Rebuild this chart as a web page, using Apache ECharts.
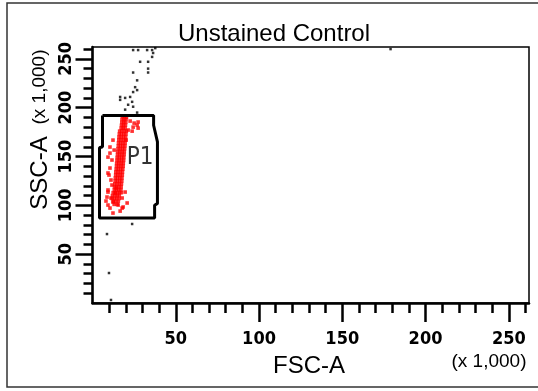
<!DOCTYPE html>
<html>
<head>
<meta charset="utf-8">
<script src="https://cdn.jsdelivr.net/npm/echarts@6/dist/echarts.min.js"></script>
<style>
html,body{margin:0;padding:0;background:#fff;}
#chart{width:538px;height:391px;}
</style>
</head>
<body>
<div id="chart"></div>
<script>
// ---- data (values in thousands) ----
const axisMax = 262.144;
const majorTicks = [50, 100, 150, 200, 250];
const minorTicks = [10, 20, 30, 40, 50, 60, 70, 80, 90, 100, 110, 120, 130, 140, 150, 160, 170, 180, 190, 200, 210, 220, 230, 240, 250, 260];

const gateP1 = [
  [6.0, 192], [36.7, 192], [36.7, 182], [39.0, 165], [39.0, 102], [37.3, 100],
  [37.3, 87], [4.2, 87], [4.2, 159], [6.0, 160], [6.0, 192]
];
const gateLabel = [[20.5, 149]];

const eventsInGate = [
  [18.0,191],[19.2,191],[20.4,190],
  [17.7,188],[18.9,188],[20.1,188],
  [17.6,185],[18.8,185],[20.0,185],
  [17.4,182],[18.6,182],[19.8,182],
  [17.2,179],[18.4,179],[19.6,179],
  [16.3,176],[17.6,176],[19.0,176],[20.3,176],
  [16.1,173],[17.4,173],[18.8,173],[20.1,173],
  [15.9,170],[17.2,170],[18.6,170],[19.9,170],
  [15.8,167],[17.1,167],[18.5,167],[19.8,167],
  [15.6,164],[16.9,164],[18.3,164],[19.6,164],
  [15.5,161],[16.8,161],[18.2,161],[19.5,161],
  [15.3,158],[16.6,158],[18.0,158],[19.3,158],
  [15.1,155],[16.4,155],[17.8,155],[19.1,155],
  [15.0,152],[16.3,152],[17.7,152],[19.0,152],
  [14.8,149],[16.1,149],[17.5,149],[18.8,149],
  [14.7,146],[16.0,146],[17.4,146],[18.7,146],
  [14.5,143],[15.8,143],[17.2,143],[18.5,143],
  [14.4,140],[15.7,140],[17.1,140],[18.4,140],
  [14.2,137],[15.5,137],[16.9,137],[18.2,137],
  [14.0,134],[15.3,134],[16.7,134],[18.0,134],
  [13.9,131],[15.2,131],[16.6,131],[17.9,131],
  [13.7,128],[15.0,128],[16.4,128],[17.7,128],
  [13.6,125],[14.9,125],[16.3,125],[17.6,125],
  [13.4,122],[14.7,122],[16.1,122],[17.4,122],
  [13.2,119],[14.5,119],[15.9,119],[17.2,119],
  [13.1,116],[14.4,116],[15.8,116],[17.1,116],
  [12.4,113],[13.8,113],[15.0,113],[16.3,113],[17.3,113],
  [12.0,110],[13.5,110],[14.8,110],[16.1,110],
  [11.8,107],[13.2,107],[14.6,107],[16.0,107],
  [12.5,104],[14.0,104],[15.5,104],
  [13.0,101],[14.8,101],
  [25.0,184.2],[27.4,185.3],[26.8,182.2],[24.4,180.1],[27.4,179.1],[23.8,176.0],
  [22.6,186.3],[12.3,166.8],[10.5,159.7],[9.3,149.4],[11.7,146.4],[10.5,138.2],
  [9.3,133.1],[11.1,125.9],[9.3,115.7],[8.7,108.5],[11.1,107.5],[9.3,100.3],
  [10.5,97.2],[12.3,103.4],[15.4,100.3],[17.8,97.2],[18.4,98.3],[20.8,102.4],
  [19.6,113.6],[17.8,107.5],[13.6,112.6],[9.3,113.6],[11.7,120.8],[13.0,156.6],
  [10.5,153.5],[21.4,177.1],[20.2,166.8],[14.2,117.7],[8.1,104.4],[16.6,94.1],
  [12.3,92.1],[9.9,131.0]
];

const eventsOutside = [
  [24.4,259],[27.4,259],[32.8,259],[35.8,259],[37.7,261],[36.4,256],[35.8,252],
  [28.6,247],[33.4,247],[33.4,240],[33.4,236],[24.4,236],[26.8,228],[25.6,221],
  [26.8,218],[24.4,216],[16.6,211],[16.6,208],[19.6,210],[22.6,211],[23.8,206],
  [21.4,203],[24.4,201],[19.6,198],[26.8,195],[179,260],
  [8.7,70.6],[9.9,30.7],[11.1,3.1],[23.8,80.9]
];

const titleText = 'Unstained Control';
const xName = 'FSC-A';
const yName = 'SSC-A';
const unitText = '(x 1,000)';

// ---- chart ----
const chart = echarts.init(document.getElementById('chart'), null, {renderer: 'canvas'});
const tickFont = "'Liberation Sans Narrow', 'DejaVu Sans Condensed', 'Liberation Sans', sans-serif";
const mainFont = "'Liberation Sans', Arial, sans-serif";

function baseAxis(extra) {
  return Object.assign({
    type: 'value', min: 0, max: axisMax,
    splitLine: {show: false}
  }, extra);
}

const option = {
  animation: false,
  backgroundColor: '#ffffff',
  grid: {left: 92.5, top: 47, right: 9, bottom: 88, show: true, borderColor: '#000', borderWidth: 1.5},
  xAxis: [
    baseAxis({
      position: 'bottom',
      axisLine: {show: true, lineStyle: {color: '#000', width: 2.5}},
      axisTick: {show: true, customValues: majorTicks, length: 19, lineStyle: {color: '#000', width: 2.5}},
      axisLabel: {show: true, customValues: majorTicks, margin: 27, color: '#000',
        fontFamily: tickFont, fontSize: 18, fontWeight: 'bold'}
    }),
    baseAxis({
      position: 'bottom',
      axisLine: {show: false},
      axisTick: {show: true, customValues: minorTicks, length: 10, lineStyle: {color: '#000', width: 2.5}},
      axisLabel: {show: false}
    })
  ],
  yAxis: [
    baseAxis({
      position: 'left',
      axisLine: {show: true, lineStyle: {color: '#000', width: 2.5}},
      axisTick: {show: true, customValues: majorTicks, length: 17, lineStyle: {color: '#000', width: 2.5}},
      axisLabel: {show: true, customValues: majorTicks, rotate: 90, margin: 17, color: '#000',
        fontFamily: tickFont, fontSize: 18, fontWeight: 'bold'}
    }),
    baseAxis({
      position: 'left',
      axisLine: {show: false},
      axisTick: {show: true, customValues: minorTicks, length: 9, lineStyle: {color: '#000', width: 2.5}},
      axisLabel: {show: false}
    })
  ],
  series: [
    {
      type: 'scatter', name: 'outside', data: eventsOutside,
      symbol: 'rect', symbolSize: 2.5, itemStyle: {color: '#000'}, z: 3
    },
    {
      type: 'scatter', name: 'P1 events', data: eventsInGate,
      symbol: 'rect', symbolSize: 3.6, itemStyle: {color: '#ff0000'}, z: 3
    },
    {
      type: 'line', name: 'P1', data: gateP1, symbol: 'none',
      lineStyle: {color: '#000', width: 3}, z: 4
    },
    {
      type: 'scatter', name: 'P1 label', data: gateLabel, symbolSize: 0,
      label: {show: true, position: 'inside', align: 'left', verticalAlign: 'middle',
        formatter: 'P1', color: '#000', fontFamily: tickFont, fontSize: 24},
      z: 5
    }
  ],
  graphic: [
    {type: 'rect', shape: {x: 7, y: 3, width: 560, height: 384}, style: {fill: 'none', stroke: '#333', lineWidth: 1.5}, z: -1, silent: true},
    {type: 'text', x: 274, y: 34, style: {text: titleText, font: '24px ' + mainFont, fill: '#000', textAlign: 'center', textVerticalAlign: 'middle'}},
    {type: 'text', x: 309, y: 366, style: {text: xName, font: '24px ' + mainFont, fill: '#000', textAlign: 'center', textVerticalAlign: 'middle'}},
    {type: 'text', x: 489, y: 362, style: {text: unitText, font: '19px ' + mainFont, fill: '#000', textAlign: 'center', textVerticalAlign: 'middle'}},
    {type: 'text', x: 40, y: 173, rotation: Math.PI / 2, style: {text: yName, font: '24px ' + mainFont, fill: '#000', textAlign: 'center', textVerticalAlign: 'middle'}},
    {type: 'text', x: 40, y: 87, rotation: Math.PI / 2, style: {text: unitText, font: '19px ' + mainFont, fill: '#000', textAlign: 'center', textVerticalAlign: 'middle'}}
  ]
};
chart.setOption(option);
</script>
</body>
</html>
